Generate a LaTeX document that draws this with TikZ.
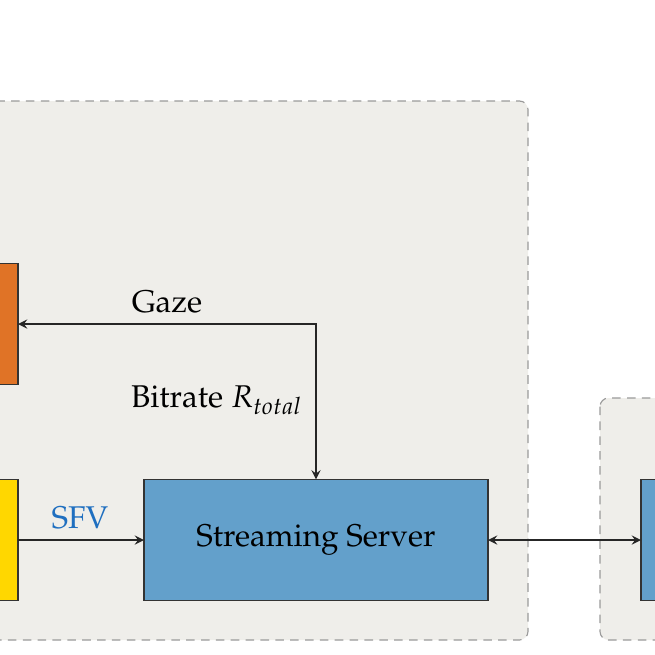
\documentclass[tikz,border=0pt]{standalone}
\usepackage[T1]{fontenc}
\usepackage{mathpazo}
\usepackage{xcolor}
\usetikzlibrary{shapes,arrows,backgrounds}
\definecolor{groupgray}{HTML}{EFEEEA}
\definecolor{dashgray}{HTML}{9A9A9A}
\definecolor{boxorange}{HTML}{E07326}
\definecolor{boxyellow}{HTML}{FFD700}
\definecolor{boxblue}{HTML}{63A0CB}
\definecolor{sfvblue}{HTML}{1F6FC0}
\tikzstyle{block} = [rectangle, sharp corners, draw=black!80, inner sep=0pt,
                     outer sep=0pt, text centered, fill=boxblue,
                     minimum width=120.4pt, minimum height=42.4pt]
\tikzstyle{block1} = [block, fill=boxorange, minimum width=40.6pt]
\tikzstyle{block2} = [block, fill=boxyellow, minimum width=40.6pt]

\begin{document}
\begin{tikzpicture}[x=0.35pt, y=-0.35pt, font=\fontsize{11}{13}\selectfont,
group/.style={draw=dashgray, dash pattern=on 3pt off 2.2pt, fill=groupgray, rounded corners=3pt},
link/.style={draw=black!85, line width=0.45pt, >=stealth}]
\useasboundingbox (0,0) rectangle (655,655);
%Groups
\draw[group] (-30,101) rectangle (528,640);
\draw[group] (600,398) rectangle (720,640);

%Boxes
\node[block1] at (-40,324) (display){};
\node[block2] at (-40,540) (render){};
\node[block] at (316,540) (server){Streaming Server};
\node[block] at (813,540) (client){};

%Links
\draw[link,<->] (display.east) -| (server.north);
\draw[link,->] (render.east) -- (server.west);
\draw[link,<->] (server.east) -- (client.west);

%Labels
\node (gaze) at (167,302) {Gaze};
\node (bitrate) at (217,400) {Bitrate $R_{total}$};
\node[text=sfvblue] (sfv) at (80,518) {SFV};
\end{tikzpicture}
\end{document}
